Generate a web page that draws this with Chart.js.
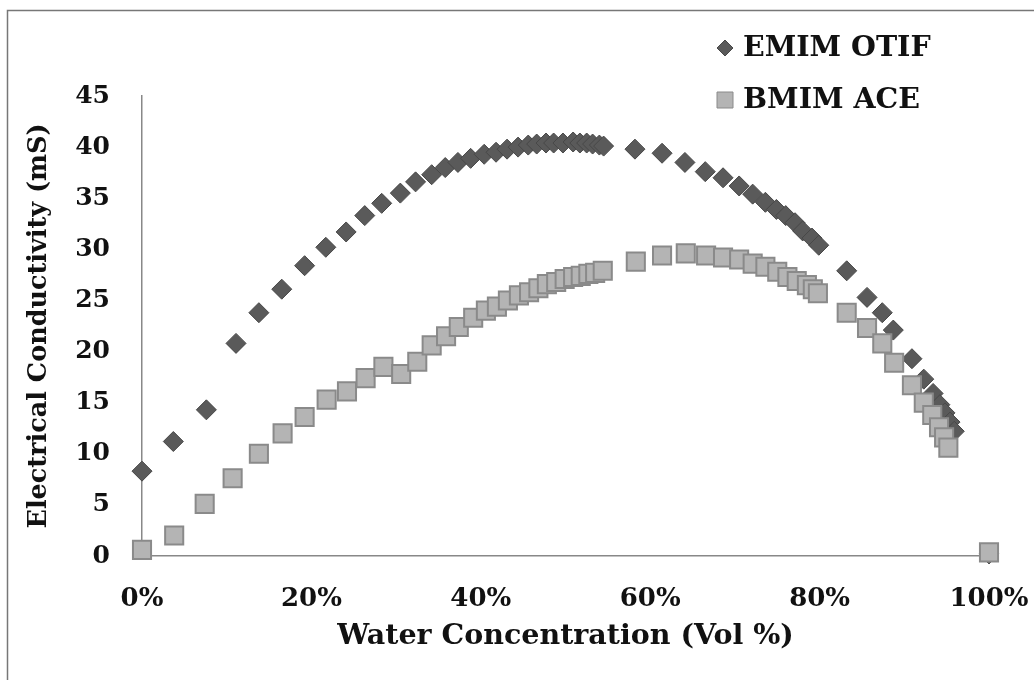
<!DOCTYPE html>
<html>
<head>
<meta charset="utf-8">
<script src="https://cdn.jsdelivr.net/npm/chart.js@4/dist/chart.umd.min.js"></script>
<style>
  html, body { margin: 0; padding: 0; background: #fff; }
  #wrap { width: 1034px; height: 680px; }
</style>
</head>
<body>
<div id="wrap"><canvas id="conductivity-chart" width="1034" height="680"></canvas></div>
<script>
const seriesLabels = ['EMIM OTIF', 'BMIM ACE'];

// water content (vol %) and conductivity (mS) for each ionic liquid
const emimWater = [0, 3.7, 7.6, 11.1, 13.8, 16.5, 19.2, 21.7, 24.1, 26.3, 28.3, 30.5, 32.3, 34.2, 35.8,
    37.3, 38.8, 40.4, 41.8, 43.1, 44.4, 45.6, 46.6, 47.7, 48.6, 49.7, 50.9, 51.7, 52.5, 53.2, 54.0, 54.5,
    58.2, 61.4, 64.1, 66.5, 68.6, 70.5, 72.1, 73.6, 74.9, 76.0, 77.1, 78.0, 79.1, 79.9,
    83.2, 85.6, 87.4, 88.7, 90.9, 92.3, 93.4, 94.2, 94.8, 95.4, 95.9, 100];
const emimCond = [8.3, 11.2, 14.3, 20.8, 23.8, 26.1, 28.4, 30.2, 31.7, 33.3, 34.5, 35.5, 36.6, 37.3, 38.0,
    38.5, 38.9, 39.3, 39.5, 39.8, 40.0, 40.2, 40.3, 40.4, 40.4, 40.4, 40.5, 40.4, 40.4, 40.3, 40.2, 40.1,
    39.8, 39.4, 38.5, 37.6, 37.0, 36.2, 35.4, 34.6, 33.9, 33.3, 32.6, 31.8, 31.1, 30.4,
    27.9, 25.3, 23.8, 22.1, 19.3, 17.3, 15.9, 14.8, 14.0, 13.1, 12.2, 0.2];

const bmimWater = [0, 3.8, 7.4, 10.7, 13.8, 16.6, 19.2, 21.8, 24.2, 26.4, 28.5, 30.6, 32.5, 34.2, 35.9,
    37.4, 39.1, 40.6, 41.9, 43.2, 44.5, 45.7, 46.8, 47.8, 48.9, 49.9, 50.9, 51.8, 52.7, 53.5, 54.4,
    58.3, 61.4, 64.2, 66.6, 68.6, 70.5, 72.1, 73.6, 75.0, 76.2, 77.3, 78.5, 79.2, 79.8,
    83.2, 85.6, 87.4, 88.8, 90.9, 92.3, 93.3, 94.1, 94.7, 95.2, 100];
const bmimCond = [0.6, 2.0, 5.1, 7.6, 10.0, 12.0, 13.6, 15.3, 16.1, 17.4, 18.5, 17.8, 19.0, 20.6, 21.5,
    22.4, 23.3, 24.0, 24.4, 25.0, 25.5, 25.8, 26.2, 26.6, 26.8, 27.1, 27.3, 27.4, 27.6, 27.7, 27.9,
    28.8, 29.4, 29.6, 29.4, 29.2, 29.0, 28.6, 28.3, 27.8, 27.3, 26.9, 26.5, 26.1, 25.7,
    23.8, 22.3, 20.8, 18.9, 16.7, 15.0, 13.8, 12.6, 11.6, 10.6, 0.35];

const xMin = 0, xMax = 100, xStep = 20;
const yMin = 0, yMax = 45, yStep = 5;

const toPoints = (xs, ys) => xs.map((x, i) => ({ x: x, y: ys[i] }));

const serif = "'DejaVu Serif', 'Liberation Serif', serif";
const diamondFill = '#5a5a5a', diamondEdge = '#484848';
const squareFill = '#b4b4b4', squareEdge = '#8a8a8a';

// outer frame, only left and top edges show
const framePlugin = {
    id: 'frame',
    beforeDraw(chart) {
        const ctx = chart.ctx;
        ctx.save();
        ctx.fillStyle = '#fff';
        ctx.fillRect(0, 0, chart.width, chart.height);
        ctx.strokeStyle = '#777';
        ctx.lineWidth = 1.5;
        ctx.beginPath();
        ctx.moveTo(7.5, chart.height);
        ctx.lineTo(7.5, 10.5);
        ctx.lineTo(chart.width, 10.5);
        ctx.stroke();
        ctx.restore();
    }
};

// two-row legend in the top right corner
const legendPlugin = {
    id: 'cornerLegend',
    afterDraw(chart) {
        const ctx = chart.ctx;
        const rows = [48, 100];
        ctx.save();
        ctx.font = 'bold 28.5px ' + serif;
        ctx.textBaseline = 'middle';
        chart.data.datasets.forEach((ds, i) => {
            const y = rows[i];
            ctx.fillStyle = ds.backgroundColor;
            ctx.strokeStyle = ds.borderColor;
            ctx.lineWidth = 1;
            ctx.beginPath();
            if (ds.pointStyle === 'rectRot') {
                ctx.moveTo(725, y - 8);
                ctx.lineTo(733, y);
                ctx.lineTo(725, y + 8);
                ctx.lineTo(717, y);
                ctx.closePath();
            } else {
                ctx.rect(717, y - 8, 16, 16);
            }
            ctx.fill();
            ctx.stroke();
            ctx.fillStyle = '#111';
            ctx.fillText(ds.label, 743, y + 1);
        });
        ctx.restore();
    }
};

new Chart(document.getElementById('conductivity-chart'), {
    type: 'scatter',
    data: {
        datasets: [
            {
                label: seriesLabels[0],
                data: toPoints(emimWater, emimCond),
                pointStyle: 'rectRot',
                pointRadius: 10,
                backgroundColor: diamondFill,
                borderColor: diamondEdge,
                borderWidth: 1,
                order: 2,
                clip: false,
            },
            {
                label: seriesLabels[1],
                data: toPoints(bmimWater, bmimCond),
                pointStyle: 'rect',
                pointRadius: 12.8,
                backgroundColor: squareFill,
                borderColor: squareEdge,
                borderWidth: 2,
                order: 1,
                clip: false,
            },
        ]
    },
    options: {
        responsive: false,
        animation: false,
        devicePixelRatio: 1,
        events: [],
        layout: { padding: { top: 96, right: 45, left: 0, bottom: 0 } },
        scales: {
            x: {
                type: 'linear',
                min: xMin,
                max: xMax,
                grid: { display: false, drawTicks: false },
                border: { display: true, color: '#888', width: 1.5 },
                ticks: {
                    stepSize: xStep,
                    padding: 28,
                    color: '#111',
                    font: { family: serif, size: 26, weight: 'bold' },
                    callback: (v) => v + '%',
                },
                title: {
                    display: true,
                    text: 'Water Concentration (Vol %)',
                    color: '#111',
                    font: { family: serif, size: 28.5, weight: 'bold', lineHeight: 1 },
                    padding: { top: 0, bottom: 29 },
                },
                afterFit: (scale) => {
                    scale.height = 124;
                    scale.paddingLeft = 0;
                    scale.paddingRight = 0;
                },
            },
            y: {
                type: 'linear',
                min: yMin,
                max: yMax,
                grid: { display: false, drawTicks: false },
                border: { display: true, color: '#888', width: 1.5 },
                ticks: {
                    stepSize: yStep,
                    padding: 32,
                    color: '#111',
                    font: { family: serif, size: 25, weight: 'bold' },
                },
                title: {
                    display: true,
                    text: 'Electrical Conductivity (mS)',
                    color: '#111',
                    font: { family: serif, size: 25.5, weight: 'bold', lineHeight: 1 },
                    padding: { top: 27, bottom: 0 },
                },
                afterFit: (scale) => {
                    scale.width = 142;
                    scale.paddingTop = 0;
                    scale.paddingBottom = 0;
                },
            }
        },
        plugins: {
            legend: { display: false },
            tooltip: { enabled: false },
        }
    },
    plugins: [framePlugin, legendPlugin]
});
</script>
</body>
</html>
